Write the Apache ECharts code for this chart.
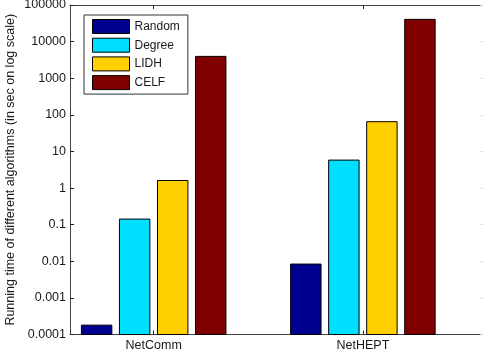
<!DOCTYPE html>
<html>
<head>
<meta charset="utf-8">
<script src="https://cdn.jsdelivr.net/npm/echarts@6/dist/echarts.min.js"></script>
<style>
  html, body { margin: 0; padding: 0; background: #fff; }
  #chart { width: 483px; height: 356px; }
</style>
</head>
<body>
<div id="chart"></div>
<script>
// Running time (seconds) of each seeding algorithm on two networks
const categories = ['NetComm', 'NetHEPT'];
const seriesNames = ['Random', 'Degree', 'LIDH', 'CELF'];
const randomTimes = [0.00018, 0.0084];
const degreeTimes = [0.142, 5.8];
const lidhTimes = [1.61, 65];
const celfTimes = [3950, 40500];
const yTickLabels = ['0.0001', '0.001', '0.01', '0.1', '1', '10', '100', '1000', '10000', '100000'];

const seriesValues = [randomTimes, degreeTimes, lidhTimes, celfTimes];
const seriesColors = ['#00008f', '#00dfff', '#ffcf00', '#800000'];

const Y_MIN = 0.0001, Y_MAX = 100000;
// grouped bar geometry in x-axis units (group positions are 1, 2, ...)
const GROUP_WIDTH = Math.min(0.8, seriesNames.length / (seriesNames.length + 1.5));
const PITCH = GROUP_WIDTH / seriesNames.length;
const BAR_WIDTH = PITCH * 0.8;

const font = 'Liberation Sans, Arial, Helvetica, sans-serif';
const textColor = '#1a1a1a';
const frameColor = '#444';
const fontSize = 12.5;

function makeSeries(idx) {
  const values = seriesValues[idx];
  const offset = (idx - (seriesNames.length - 1) / 2) * PITCH;
  return {
    name: seriesNames[idx],
    type: 'custom',
    itemStyle: { color: seriesColors[idx], borderColor: '#000', borderWidth: 1 },
    encode: { x: 0, y: 1 },
    data: values.map((v, i) => [i + 1, v]),
    renderItem: function (params, api) {
      const x = api.value(0);
      const v = api.value(1);
      const topLeft = api.coord([x + offset - BAR_WIDTH / 2, v]);
      const bottomRight = api.coord([x + offset + BAR_WIDTH / 2, Y_MIN]);
      return {
        type: 'rect',
        shape: {
          x: topLeft[0],
          y: topLeft[1],
          width: bottomRight[0] - topLeft[0],
          height: bottomRight[1] - topLeft[1]
        },
        style: { fill: seriesColors[idx], stroke: '#000', lineWidth: 1 }
      };
    }
  };
}

const chart = echarts.init(document.getElementById('chart'), null, { renderer: 'canvas' });

const tickPositions = categories.map((c, i) => i + 1);

chart.setOption({
  animation: false,
  backgroundColor: '#fff',
  textStyle: { fontFamily: font },
  grid: {
    left: 70, top: 5, width: 418.4, height: 329.5,
    containLabel: false,
    outerBoundsMode: 'none'
  },
  legend: {
    data: seriesNames,
    orient: 'vertical',
    left: 84,
    top: 15,
    icon: 'rect',
    itemWidth: 37,
    itemHeight: 14,
    itemGap: 3.7,
    padding: [4, 8, 4, 8],
    borderColor: '#333',
    borderWidth: 1,
    backgroundColor: '#fff',
    itemStyle: { borderColor: '#000', borderWidth: 1 },
    textStyle: { fontSize: 12, color: textColor, fontFamily: font }
  },
  xAxis: [
    {
      type: 'value',
      min: 0.6,
      max: 2.6,
      splitLine: { show: false },
      axisLine: { show: true, onZero: false, lineStyle: { color: frameColor, width: 1 } },
      axisTick: { show: true, inside: true, length: 4, customValues: tickPositions, lineStyle: { color: '#222' } },
      axisLabel: {
        show: true,
        customValues: tickPositions,
        margin: 5,
        fontSize: fontSize,
        color: textColor,
        formatter: v => categories[Math.round(v) - 1] || ''
      }
    },
    {
      type: 'value',
      position: 'top',
      min: 0.6,
      max: 2.6,
      splitLine: { show: false },
      axisLine: { show: true, onZero: false, lineStyle: { color: frameColor, width: 1 } },
      axisTick: { show: true, inside: true, length: 4, customValues: tickPositions, lineStyle: { color: '#222' } },
      axisLabel: { show: false }
    }
  ],
  yAxis: [
    {
      type: 'log',
      logBase: 10,
      min: Y_MIN,
      max: Y_MAX,
      interval: 1,
      name: 'Running time of different algorithms (in sec on log scale)',
      nameLocation: 'middle',
      nameGap: 53,
      nameMoveOverlap: false,
      nameTextStyle: { fontSize: fontSize, color: textColor, fontFamily: font },
      splitLine: { show: false },
      minorTick: { show: false },
      axisLine: { show: true, onZero: false, lineStyle: { color: frameColor, width: 1 } },
      axisTick: { show: true, inside: true, length: 4, lineStyle: { color: '#222' } },
      axisLabel: {
        margin: 4,
        fontSize: fontSize,
        color: textColor,
        formatter: v => yTickLabels[Math.round(Math.log10(v)) + 4]
      }
    },
    {
      type: 'log',
      logBase: 10,
      position: 'right',
      min: Y_MIN,
      max: Y_MAX,
      interval: 1,
      splitLine: { show: false },
      axisLine: { show: true, onZero: false, lineStyle: { color: frameColor, width: 1 } },
      axisTick: { show: true, inside: true, length: 8, lineStyle: { color: '#ddd' } },
      axisLabel: { show: false }
    }
  ],
  series: seriesNames.map((n, i) => makeSeries(i))
});
</script>
</body>
</html>
